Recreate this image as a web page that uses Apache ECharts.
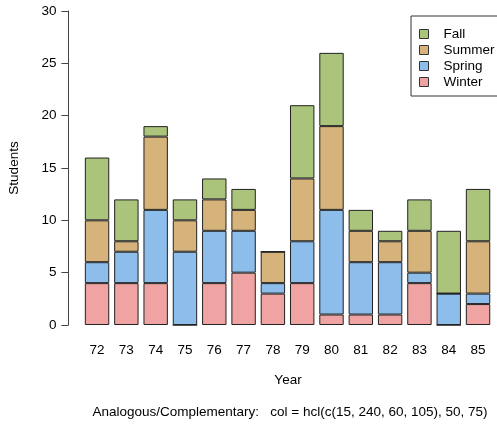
<!DOCTYPE html>
<html>
<head>
<meta charset="utf-8">
<script src="https://cdn.jsdelivr.net/npm/echarts@6/dist/echarts.min.js"></script>
<style>html,body{margin:0;padding:0;background:#fff}#c{width:497px;height:427px}</style>
</head>
<body>
<div id="c"></div>
<script>
const years = ['72','73','74','75','76','77','78','79','80','81','82','83','84','85'];
const winter = [4,4,4,0,4,5,3,4,1,1,1,4,0,2];
const spring = [2,3,7,7,5,4,1,4,10,5,5,1,3,1];
const summer = [4,1,7,3,3,2,3,6,8,3,2,4,0,5];
const fall   = [6,4,1,2,2,2,0,7,7,2,1,3,6,5];
const yTicks = [0,5,10,15,20,25,30];
const colors = {Winter:'#EFA4A3', Spring:'#8CBDEB', Summer:'#D5B37A', Fall:'#AAC47C'};
const font = 'Liberation Sans, Arial, Helvetica, sans-serif';
const fs = 13.5;

const chart = echarts.init(document.getElementById('c'), null, {renderer:'canvas'});
function ser(name, data){
  return {name, type:'bar', stack:'s', data, barCategoryGap:'16.7%',
    itemStyle:{color:colors[name], borderColor:'#222', borderWidth:1},
    emphasis:{disabled:true}};
}
chart.setOption({
  animation:false,
  textStyle:{fontFamily:font},
  grid:{left:82.4, right:4.3, top:11, bottom:102},
  xAxis:{type:'category', data:years, axisLine:{show:false}, axisTick:{show:false},
    axisLabel:{color:'#000', fontSize:fs, margin:18, fontFamily:font}},
  yAxis:{type:'value', min:yTicks[0], max:yTicks[yTicks.length-1], interval:5, offset:14,
    splitLine:{show:false},
    axisLine:{show:true, lineStyle:{color:'#444', width:1}},
    axisTick:{show:true, length:7, lineStyle:{color:'#444'}},
    axisLabel:{color:'#000', fontSize:fs, margin:12, fontFamily:font}},
  legend:{data:['Fall','Summer','Spring','Winter'], orient:'vertical', left:411, top:16,
    itemWidth:9, itemHeight:9, itemGap:0,
    borderColor:'#333', borderWidth:1, padding:[10,3,6,8], icon:'rect',
    textStyle:{color:'#000', fontSize:fs, lineHeight:16, padding:[0,0,0,10], fontFamily:font},
    itemStyle:{borderColor:'#333', borderWidth:1}},
  graphic:[
    {type:'text', x:14, y:168, rotation:Math.PI/2, style:{text:'Students', font:fs+'px '+font, fill:'#000', textAlign:'center', textVerticalAlign:'middle'}},
    {type:'text', x:288, y:380, style:{text:'Year', font:fs+'px '+font, fill:'#000', textAlign:'center', textVerticalAlign:'middle'}},
    {type:'text', x:290, y:412, style:{text:'Analogous/Complementary:   col = hcl(c(15, 240, 60, 105), 50, 75)', font:'13.5px '+font, fill:'#000', textAlign:'center', textVerticalAlign:'middle'}}
  ],
  series:[ser('Winter',winter), ser('Spring',spring), ser('Summer',summer), ser('Fall',fall)]
});
</script>
</body>
</html>
